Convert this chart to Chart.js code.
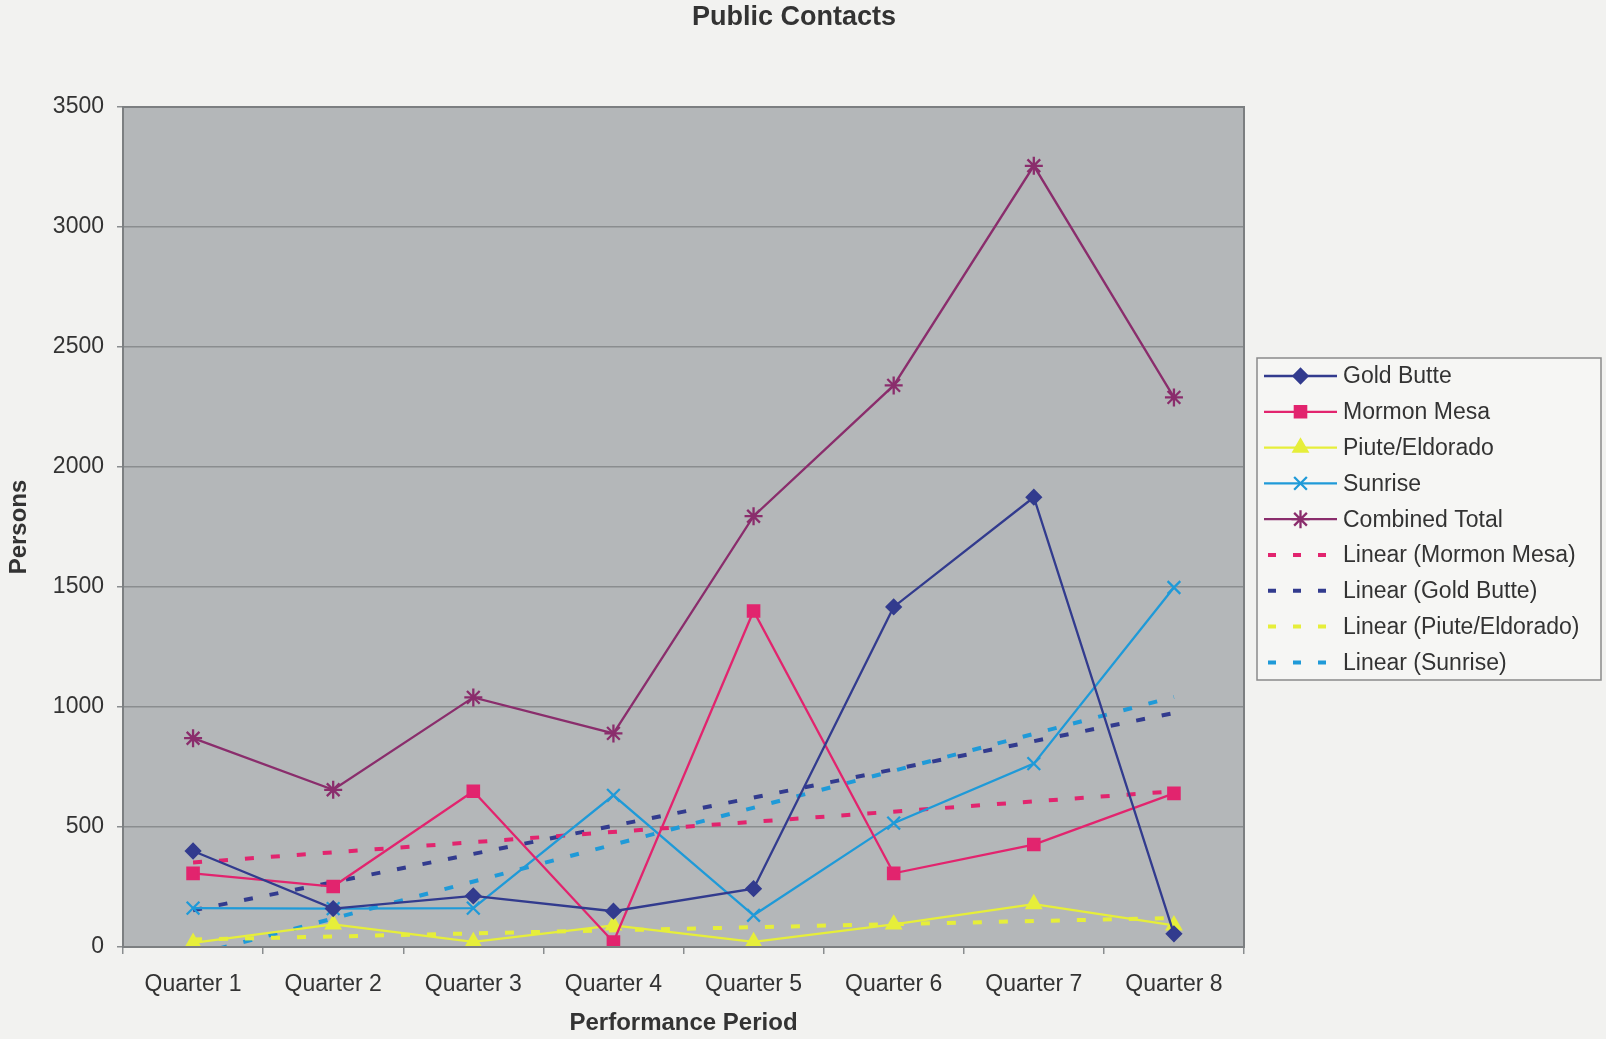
<!DOCTYPE html>
<html lang="en">
<head>
    <meta charset="UTF-8">
    <title>Public Contacts</title>
    <script src="https://cdn.jsdelivr.net/npm/chart.js"></script>
    <style>
        html, body { margin: 0; padding: 0; background: #f2f2f0; }
        #wrap { width: 1606px; height: 1039px; }
    </style>
</head>
<body>
    <div id="wrap"><canvas id="contactsChart" width="1606" height="1039"></canvas></div>
    <script>
        // values
        const quarters = ['Quarter 1', 'Quarter 2', 'Quarter 3', 'Quarter 4', 'Quarter 5', 'Quarter 6', 'Quarter 7', 'Quarter 8'];
        const goldButte = [400, 160, 213, 149, 243, 1417, 1874, 55];
        const mormonMesa = [307, 252, 649, 21, 1400, 307, 427, 640];
        const piuteEldorado = [17, 94, 21, 90, 21, 94, 179, 90];
        const sunrise = [162, 160, 162, 632, 132, 516, 764, 1498];
        const combinedTotal = [870, 655, 1040, 890, 1795, 2340, 3255, 2290];

        // trendline end points (first quarter, last quarter)
        const trendMormon = [352, 649];
        const trendGold = [153, 975];
        const trendPiute = [31, 121];
        const trendSunrise = [-35, 1042];

        const yTicks = [0, 500, 1000, 1500, 2000, 2500, 3000, 3500];

        const FONT = "'Liberation Sans', Arial, sans-serif";
        const colGold = '#323b8e';
        const colMormon = '#e2246e';
        const colPiute = '#e6ee3a';
        const colSunrise = '#1f9ad8';
        const colCombined = '#8a2d6c';

        function trend(ends) {
            return [{ x: quarters[0], y: ends[0] }, { x: quarters[quarters.length - 1], y: ends[1] }];
        }

        function series(label, data, color, style, r) {
            return {
                label: label, data: data, borderColor: color, backgroundColor: color,
                borderWidth: 2.3, pointStyle: style, pointRadius: r, pointBorderWidth: 2.3,
                pointBackgroundColor: color, pointBorderColor: color, tension: 0
            };
        }

        function trendSeries(label, ends, color) {
            return {
                label: label, data: trend(ends), borderColor: color, borderWidth: 4,
                borderDash: [9, 17], pointRadius: 0, borderCapStyle: 'butt'
            };
        }

        const legendItems = [
            { text: 'Gold Butte', color: colGold, style: 'rectRot', r: 7 },
            { text: 'Mormon Mesa', color: colMormon, style: 'rect', r: 8 },
            { text: 'Piute/Eldorado', color: colPiute, style: 'triangle', r: 8 },
            { text: 'Sunrise', color: colSunrise, style: 'crossRot', r: 9 },
            { text: 'Combined Total', color: colCombined, style: 'star', r: 9 },
            { text: 'Linear (Mormon Mesa)', color: colMormon, dash: true },
            { text: 'Linear (Gold Butte)', color: colGold, dash: true },
            { text: 'Linear (Piute/Eldorado)', color: colPiute, dash: true },
            { text: 'Linear (Sunrise)', color: colSunrise, dash: true }
        ];

        const excelLook = {
            id: 'excelLook',
            beforeDraw(chart) {
                const c = chart.ctx, a = chart.chartArea;
                c.save();
                c.fillStyle = '#f2f2f0';
                c.fillRect(0, 0, chart.width, chart.height);
                c.fillStyle = '#b4b7b9';
                c.fillRect(a.left, a.top, a.right - a.left, a.bottom - a.top);
                c.restore();
            },
            afterDraw(chart) {
                const c = chart.ctx, a = chart.chartArea;
                c.save();
                c.strokeStyle = '#7c7f81';
                c.lineWidth = 2;
                c.strokeRect(a.left, a.top, a.right - a.left, a.bottom - a.top);

                // chart title, centred on the page rather than the plot
                c.fillStyle = '#333333';
                c.font = 'bold 27px ' + FONT;
                c.textAlign = 'center';
                c.textBaseline = 'middle';
                c.fillText('Public Contacts', 794, 18);
                c.textAlign = 'left';

                // legend box
                const bx = a.right + 13, bw = 344, bh = 322;
                const by = (a.top + a.bottom) / 2 - bh / 2 - 8;
                c.fillStyle = '#f6f6f4';
                c.fillRect(bx, by, bw, bh);
                c.strokeStyle = '#8a8a8a';
                c.lineWidth = 1.5;
                c.strokeRect(bx, by, bw, bh);

                const x0 = bx + 7, x1 = bx + 80, tx = bx + 86;
                c.font = '23px ' + FONT;
                c.textBaseline = 'middle';
                legendItems.forEach(function (it, i) {
                    const y = by + 18 + i * 35.8;
                    c.strokeStyle = it.color;
                    c.fillStyle = it.color;
                    if (it.dash) {
                        c.lineWidth = 4;
                        c.setLineDash([8, 17]);
                        c.beginPath(); c.moveTo(x0 + 4, y); c.lineTo(x1, y); c.stroke();
                        c.setLineDash([]);
                    } else {
                        c.lineWidth = 2.3;
                        c.beginPath(); c.moveTo(x0, y); c.lineTo(x1, y); c.stroke();
                        Chart.helpers.drawPoint(c, { pointStyle: it.style, radius: it.r, borderWidth: 2.3, rotation: 0 }, (x0 + x1) / 2, y);
                    }
                    c.fillStyle = '#333333';
                    c.fillText(it.text, tx, y + 1);
                });
                c.restore();
            }
        };

        const ctx = document.getElementById('contactsChart').getContext('2d');
        const contactsChart = new Chart(ctx, {
            type: 'line',
            data: {
                labels: quarters,
                datasets: [
                    series('Gold Butte', goldButte, colGold, 'rectRot', 7),
                    series('Mormon Mesa', mormonMesa, colMormon, 'rect', 8),
                    series('Piute/Eldorado', piuteEldorado, colPiute, 'triangle', 8),
                    series('Sunrise', sunrise, colSunrise, 'crossRot', 9),
                    series('Combined Total', combinedTotal, colCombined, 'star', 9),
                    trendSeries('Linear (Mormon Mesa)', trendMormon, colMormon),
                    trendSeries('Linear (Gold Butte)', trendGold, colGold),
                    trendSeries('Linear (Piute/Eldorado)', trendPiute, colPiute),
                    trendSeries('Linear (Sunrise)', trendSunrise, colSunrise)
                ]
            },
            options: {
                responsive: false,
                animation: false,
                layout: { padding: { left: 5, right: 362, top: 107, bottom: 0 } },
                plugins: {
                    legend: { display: false },
                    tooltip: { enabled: false },
                    title: { display: false }
                },
                scales: {
                    x: {
                        offset: true,
                        grid: { display: true, drawOnChartArea: false, drawTicks: true, tickLength: 7, offset: true, color: '#8a8d8f', lineWidth: 1.5 },
                        border: { display: false },
                        ticks: { color: '#333333', font: { family: FONT, size: 23 }, padding: 17, maxRotation: 0 },
                        title: {
                            display: true, text: 'Performance Period', color: '#333333',
                            font: { family: FONT, size: 24, weight: 'bold' }, padding: { top: 0, bottom: 1 }
                        },
                        afterFit(scale) { scale.height = 92; }
                    },
                    y: {
                        min: 0,
                        max: 3500,
                        afterBuildTicks(scale) { scale.ticks = yTicks.map(v => ({ value: v })); },
                        grid: { color: '#8a8d8f', lineWidth: 1.5, drawTicks: true, tickLength: 6 },
                        border: { display: false },
                        ticks: { color: '#333333', font: { family: FONT, size: 23 }, padding: 13, callback: v => String(v) },
                        title: {
                            display: true, text: 'Persons', color: '#333333',
                            font: { family: FONT, size: 24, weight: 'bold' }, padding: { top: 0, bottom: 1 }
                        },
                        afterFit(scale) { scale.width = 118; }
                    }
                }
            },
            plugins: [excelLook]
        });
    </script>
</body>
</html>
